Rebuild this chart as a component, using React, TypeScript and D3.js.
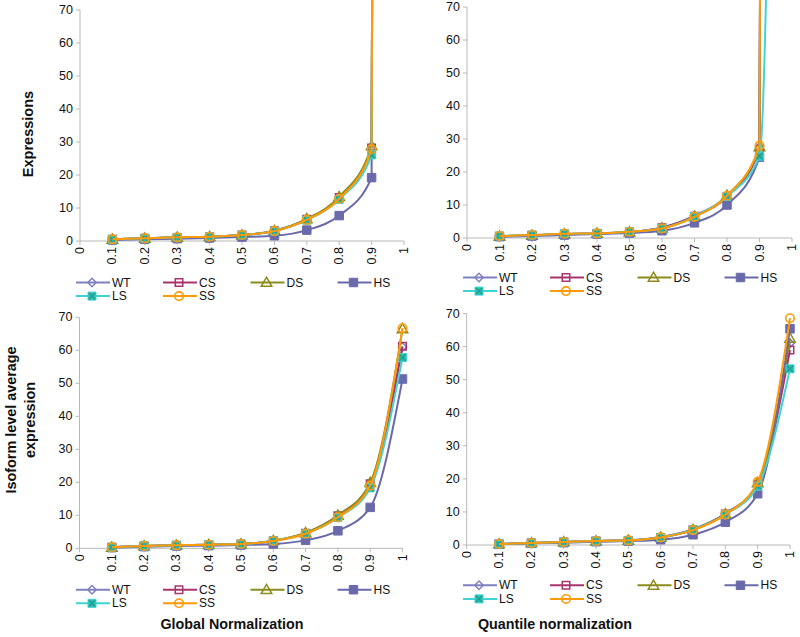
import React from 'react';
import * as d3 from 'd3';

const xValues = [0.1, 0.2, 0.3, 0.4, 0.5, 0.6, 0.7, 0.8, 0.9, 1.0];
const xTicks = [0, 0.1, 0.2, 0.3, 0.4, 0.5, 0.6, 0.7, 0.8, 0.9, 1];
const yTicks = [0, 10, 20, 30, 40, 50, 60, 70];
const seriesNames = ['WT', 'CS', 'DS', 'HS', 'LS', 'SS'];

// Expressions, Global normalization (top-left); value at 1 is far above the axis
const expGlobalWT = [0.5, 0.8, 1.1, 1.3, 1.8, 3.0, 6.5, 13.0, 27.8, 3000];
const expGlobalCS = [0.5, 0.8, 1.1, 1.3, 1.8, 3.1, 6.6, 13.2, 28.2, 3000];
const expGlobalDS = [0.5, 0.8, 1.1, 1.3, 1.8, 3.1, 6.7, 13.4, 28.8, 3000];
const expGlobalHS = [0.3, 0.5, 0.7, 0.9, 1.2, 1.6, 3.3, 7.7, 19.2, 3000];
const expGlobalLS = [0.5, 0.8, 1.1, 1.3, 1.8, 3.0, 6.3, 12.6, 26.1, 3000];
const expGlobalSS = [0.5, 0.8, 1.1, 1.3, 1.8, 3.0, 6.4, 12.8, 27.8, 3000];

// Expressions, Quantile normalization (top-right)
const expQuantWT = [0.5, 0.8, 1.2, 1.4, 1.8, 3.2, 6.8, 12.8, 27.5, 3000];
const expQuantCS = [0.5, 0.8, 1.2, 1.4, 1.8, 3.1, 6.6, 12.5, 27.0, 3000];
const expQuantDS = [0.5, 0.8, 1.2, 1.4, 1.8, 3.0, 6.5, 12.9, 27.6, 3000];
const expQuantHS = [0.4, 0.6, 0.9, 1.2, 1.5, 2.2, 4.6, 10.0, 24.5, 3000];
const expQuantLS = [0.6, 0.9, 1.3, 1.4, 1.9, 2.9, 6.5, 12.6, 24.8, 800];
const expQuantSS = [0.6, 0.9, 1.3, 1.4, 1.9, 2.9, 6.4, 12.8, 28.0, 3000];

// Isoform level average expression, Global normalization (bottom-left)
const isoGlobalWT = [0.3, 0.7, 0.9, 1.1, 1.3, 2.3, 4.6, 9.8, 19.5, 61.0];
const isoGlobalCS = [0.3, 0.7, 0.9, 1.1, 1.3, 2.3, 4.6, 9.9, 19.6, 61.2];
const isoGlobalDS = [0.3, 0.7, 0.9, 1.1, 1.3, 2.3, 4.7, 10.0, 19.9, 66.5];
const isoGlobalHS = [0.2, 0.5, 0.7, 0.8, 1.0, 1.3, 2.4, 5.3, 12.4, 51.3];
const isoGlobalLS = [0.3, 0.7, 0.9, 1.1, 1.3, 2.3, 4.4, 9.3, 18.3, 57.8];
const isoGlobalSS = [0.3, 0.7, 0.9, 1.1, 1.3, 2.2, 4.4, 9.4, 19.0, 66.7];

// Isoform level average expression, Quantile normalization (bottom-right)
const isoQuantWT = [0.3, 0.6, 0.9, 1.2, 1.4, 2.4, 4.8, 9.5, 18.5, 61.0];
const isoQuantCS = [0.3, 0.6, 0.9, 1.2, 1.4, 2.3, 4.6, 9.4, 18.3, 59.0];
const isoQuantDS = [0.3, 0.6, 0.9, 1.2, 1.4, 2.3, 4.6, 9.4, 18.8, 62.5];
const isoQuantHS = [0.2, 0.5, 0.7, 1.0, 1.2, 1.6, 3.1, 6.9, 15.5, 65.4];
const isoQuantLS = [0.3, 0.6, 0.9, 1.2, 1.4, 2.3, 4.6, 9.2, 17.8, 53.3];
const isoQuantSS = [0.3, 0.6, 0.9, 1.2, 1.4, 2.3, 4.5, 9.2, 19.1, 68.6];

const colors: Record<string, string> = {
  WT: '#8080C0',
  CS: '#A8346E',
  DS: '#8C8C1C',
  HS: '#6A6AAA',
  LS: '#3FD3D3',
  SS: '#FF9A0A',
};
const markerFill: Record<string, string> = {
  WT: 'none',
  CS: 'none',
  DS: 'none',
  HS: '#6A6AAA',
  LS: '#2CBDB0',
  SS: 'none',
};

const FONT = "'Liberation Sans', Arial, sans-serif";
const AXIS = '#B8B8B8';

type Panel = {
  id: string;
  left: number;
  right: number;
  top: number;
  bottom: number;
  legendX: number;
  legendY: number;
  series: number[][];
  title?: string;
  titleX?: number;
};

const panels: Panel[] = [
  { id: 'tl', left: 80, right: 404, top: 10, bottom: 241, legendX: 76, legendY: 282.5,
    series: [expGlobalWT, expGlobalCS, expGlobalDS, expGlobalHS, expGlobalLS, expGlobalSS] },
  { id: 'tr', left: 467, right: 792, top: 7, bottom: 238, legendX: 463, legendY: 277.5,
    series: [expQuantWT, expQuantCS, expQuantDS, expQuantHS, expQuantLS, expQuantSS] },
  { id: 'bl', left: 79.5, right: 402.5, top: 317.3, bottom: 548.3, legendX: 76, legendY: 589.7,
    series: [isoGlobalWT, isoGlobalCS, isoGlobalDS, isoGlobalHS, isoGlobalLS, isoGlobalSS],
    title: 'Global Normalization', titleX: 232 },
  { id: 'br', left: 466.7, right: 790, top: 313.6, bottom: 545, legendX: 463, legendY: 585.3,
    series: [isoQuantWT, isoQuantCS, isoQuantDS, isoQuantHS, isoQuantLS, isoQuantSS],
    title: 'Quantile normalization', titleX: 555 },
];

function Marker({ name, x, y }: { name: string; x: number; y: number }) {
  const c = colors[name];
  if (name === 'WT') {
    return <path d={d3.symbol(d3.symbolSquare, 36)()!} transform={`translate(${x},${y}) rotate(45)`}
      fill="#fff" fillOpacity={0} stroke={c} strokeWidth={1.5} />;
  }
  if (name === 'CS') {
    return <path d={d3.symbol(d3.symbolSquare, 56)()!} transform={`translate(${x},${y})`}
      fill="none" stroke={c} strokeWidth={1.5} />;
  }
  if (name === 'DS') {
    return <path d={d3.symbol(d3.symbolTriangle, 48)()!} transform={`translate(${x},${y + 0.8})`}
      fill="none" stroke={c} strokeWidth={1.5} />;
  }
  if (name === 'HS') {
    return <path d={d3.symbol(d3.symbolSquare, 72)()!} transform={`translate(${x},${y})`}
      fill={markerFill.HS} stroke={c} strokeWidth={1} />;
  }
  if (name === 'LS') {
    return (
      <g transform={`translate(${x},${y})`}>
        <path d={d3.symbol(d3.symbolSquare, 64)()!} fill={markerFill.LS} stroke={c} strokeWidth={1} />
        <path d={d3.symbol(d3.symbolX, 28)()!} fill="none" stroke="#1E9C90" strokeWidth={1.2} />
      </g>
    );
  }
  return <path d={d3.symbol(d3.symbolCircle, 56)()!} transform={`translate(${x},${y})`}
    fill="none" stroke={c} strokeWidth={1.6} />;
}

function PanelView({ p }: { p: Panel }) {
  const x = d3.scaleLinear().domain([0, 1]).range([p.left, p.right]);
  const y = d3.scaleLinear().domain([0, 70]).range([p.bottom, p.top]);
  const line = d3.line<number>()
    .x((_, i) => x(xValues[i]))
    .y((v) => y(v))
    .curve(d3.curveMonotoneX);
  const clipId = `clip-${p.id}`;
  const clipTop = p.top < 100 ? 0 : p.top - 12;
  const cols = [0, 87, 174.5, 261.5];
  return (
    <g>
      <defs>
        <clipPath id={clipId}>
          <rect x={p.left - 10} y={clipTop} width={p.right - p.left + 20} height={p.bottom - clipTop + 10} />
        </clipPath>
      </defs>
      {/* axes */}
      <line x1={p.left} x2={p.left} y1={p.top} y2={p.bottom} stroke={AXIS} strokeWidth={1} />
      <line x1={p.left} x2={p.right} y1={p.bottom} y2={p.bottom} stroke={AXIS} strokeWidth={1} />
      {yTicks.map((t) => (
        <g key={`y${t}`}>
          <line x1={p.left - 4} x2={p.left} y1={y(t)} y2={y(t)} stroke={AXIS} />
          <text x={p.left - 7} y={y(t)} textAnchor="end" dominantBaseline="central"
            fontFamily={FONT} fontSize={12.5} fill="#111">{t}</text>
        </g>
      ))}
      {xTicks.map((t) => (
        <g key={`x${t}`}>
          <line x1={x(t)} x2={x(t)} y1={p.bottom} y2={p.bottom + 4} stroke={AXIS} />
          <text transform={`translate(${x(t)},${p.bottom + 6}) rotate(-90)`} textAnchor="end"
            dominantBaseline="central" fontFamily={FONT} fontSize={12.5} fill="#111">{String(t)}</text>
        </g>
      ))}
      {/* series */}
      <g clipPath={`url(#${clipId})`}>
        {p.series.map((vals, si) => {
          const name = seriesNames[si];
          return (
            <g key={name}>
              <path d={line(vals)!} fill="none" stroke={colors[name]} strokeWidth={2} />
              {vals.map((v, i) => (v <= 72 ? <Marker key={i} name={name} x={x(xValues[i])} y={y(v)} /> : null))}
            </g>
          );
        })}
      </g>
      {/* legend */}
      {seriesNames.map((name, i) => {
        const lx = p.legendX + cols[i % 4];
        const ly = p.legendY + (i >= 4 ? 13.6 : 0);
        return (
          <g key={`lg${name}`}>
            <line x1={lx} x2={lx + 34} y1={ly} y2={ly} stroke={colors[name]} strokeWidth={2} />
            <Marker name={name} x={lx + 16} y={ly} />
            <text x={lx + 36} y={ly} dominantBaseline="central" fontFamily={FONT} fontSize={12}
              fill="#111">{name}</text>
          </g>
        );
      })}
      {p.title ? (
        <text x={p.titleX} y={629} textAnchor="middle" fontFamily={FONT} fontSize={14.3}
          fontWeight="bold" fill="#111">{p.title}</text>
      ) : null}
    </g>
  );
}

export default function App() {
  return (
    <svg width={800} height={637} viewBox="0 0 800 637"
      style={{ position: 'absolute', left: 0, top: 0, background: '#fff' }}>
      <rect x={0} y={0} width={800} height={637} fill="#fff" />
      {panels.map((p) => <PanelView key={p.id} p={p} />)}
      <text transform="translate(28,134) rotate(-90)" textAnchor="middle" dominantBaseline="central"
        fontFamily={FONT} fontSize={14.5} fontWeight="bold" fill="#111">Expressions</text>
      <text transform="translate(11,420) rotate(-90)" textAnchor="middle" dominantBaseline="central"
        fontFamily={FONT} fontSize={14.4} fontWeight="bold" fill="#111">Isoform level average</text>
      <text transform="translate(30,420) rotate(-90)" textAnchor="middle" dominantBaseline="central"
        fontFamily={FONT} fontSize={14.4} fontWeight="bold" fill="#111">expression</text>
    </svg>
  );
}
